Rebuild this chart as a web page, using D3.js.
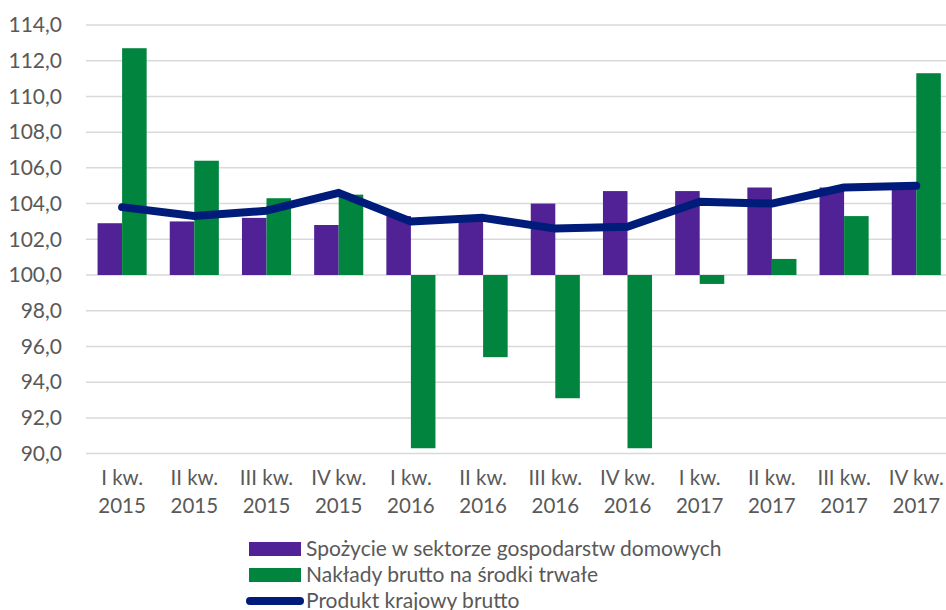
<!DOCTYPE html>
<html>
<head>
<meta charset="utf-8">
<script src="https://cdn.jsdelivr.net/npm/d3@7"></script>
<style>
  body { margin: 0; background: #fff; }
  text { font-family: Lato, "Open Sans", sans-serif; fill: #595959; }
</style>
</head>
<body>
<script>
const width = 946;
const height = 610;
const marginLeft = 86;
const marginTop = 25;
const plotBottom = 453.6;

const quarters = ["I kw.", "II kw.", "III kw.", "IV kw.", "I kw.", "II kw.", "III kw.", "IV kw.", "I kw.", "II kw.", "III kw.", "IV kw."];
const years = ["2015", "2015", "2015", "2015", "2016", "2016", "2016", "2016", "2017", "2017", "2017", "2017"];
const spozycie = [102.9, 103.0, 103.2, 102.8, 103.3, 103.2, 104.0, 104.7, 104.7, 104.9, 104.9, 105.0];
const naklady = [112.7, 106.4, 104.3, 104.5, 90.3, 95.4, 93.1, 90.3, 99.5, 100.9, 103.3, 111.3];
const pkb = [103.8, 103.3, 103.6, 104.6, 103.0, 103.2, 102.6, 102.7, 104.1, 104.0, 104.9, 105.0];
const yTicks = [90, 92, 94, 96, 98, 100, 102, 104, 106, 108, 110, 112, 114];
const seriesNames = ["Spożycie w sektorze gospodarstw domowych", "Nakłady brutto na środki trwałe", "Produkt krajowy brutto"];

const purple = "#512295";
const green = "#00843e";
const navy = "#001c7a";

const svg = d3
  .select("body")
  .append("svg")
  .attr("width", width)
  .attr("height", height);

const xScale = d3
  .scaleBand()
  .domain(d3.range(quarters.length))
  .range([marginLeft, marginLeft + 72.2 * 12])
  .paddingInner(0.32)
  .paddingOuter(0.16);

const yScale = d3
  .scaleLinear()
  .domain([90, 114])
  .range([plotBottom, marginTop]);

// gridlines
svg
  .append("g")
  .selectAll("line")
  .data(yTicks)
  .enter()
  .append("line")
  .attr("x1", marginLeft)
  .attr("x2", width)
  .attr("y1", d => yScale(d))
  .attr("y2", d => yScale(d))
  .attr("stroke", "#d9d9d9")
  .attr("stroke-width", 1.5);

// y axis labels
const yAxis = d3.axisLeft(yScale)
  .tickValues(yTicks)
  .tickSize(0)
  .tickPadding(24)
  .tickFormat(d => d3.format(".1f")(d).replace(".", ","));

svg
  .append("g")
  .attr("transform", `translate(${marginLeft}, 0)`)
  .call(yAxis)
  .call(g => g.select(".domain").remove())
  .selectAll("text")
  .style("font-size", "21px")
  .style("font-family", "Lato, sans-serif")
  .attr("fill", "#595959");

const barW = xScale.bandwidth() / 2;

// bars
function drawBars(values, color, offset) {
  svg
    .append("g")
    .selectAll("rect")
    .data(values)
    .enter()
    .append("rect")
    .attr("x", (d, i) => xScale(i) + offset)
    .attr("y", d => Math.min(yScale(d), yScale(100)))
    .attr("width", barW)
    .attr("height", d => Math.abs(yScale(d) - yScale(100)))
    .attr("fill", color);
}
drawBars(spozycie, purple, 0);
drawBars(naklady, green, barW);

// line
const line = d3.line()
  .x((d, i) => xScale(i) + xScale.bandwidth() / 2)
  .y(d => yScale(d));

svg
  .append("path")
  .datum(pkb)
  .attr("d", line)
  .attr("fill", "none")
  .attr("stroke", navy)
  .attr("stroke-width", 8)
  .attr("stroke-linecap", "round")
  .attr("stroke-linejoin", "round");

// x labels
const xLabels = svg.append("g")
  .selectAll("text")
  .data(quarters)
  .enter()
  .append("text")
  .attr("text-anchor", "middle")
  .style("font-size", "20.5px");

xLabels
  .append("tspan")
  .attr("x", (d, i) => xScale(i) + xScale.bandwidth() / 2)
  .attr("y", 485)
  .text(d => d);

xLabels
  .append("tspan")
  .attr("x", (d, i) => xScale(i) + xScale.bandwidth() / 2)
  .attr("y", 513)
  .text((d, i) => years[i]);

// legend
const legend = svg.append("g").attr("transform", "translate(249, 0)");
const rowY = [549, 575, 601];

legend.append("rect")
  .attr("x", 0).attr("y", rowY[0] - 7)
  .attr("width", 52).attr("height", 14)
  .attr("fill", purple);
legend.append("rect")
  .attr("x", 0).attr("y", rowY[1] - 7)
  .attr("width", 52).attr("height", 14)
  .attr("fill", green);
legend.append("line")
  .attr("x1", 1).attr("x2", 51)
  .attr("y1", rowY[2]).attr("y2", rowY[2])
  .attr("stroke", navy)
  .attr("stroke-width", 8)
  .attr("stroke-linecap", "round");

legend.selectAll("text")
  .data(seriesNames)
  .enter()
  .append("text")
  .attr("x", 57)
  .attr("y", (d, i) => rowY[i] + 7)
  .style("font-size", "21px")
  .text(d => d);
</script>
</body>
</html>
